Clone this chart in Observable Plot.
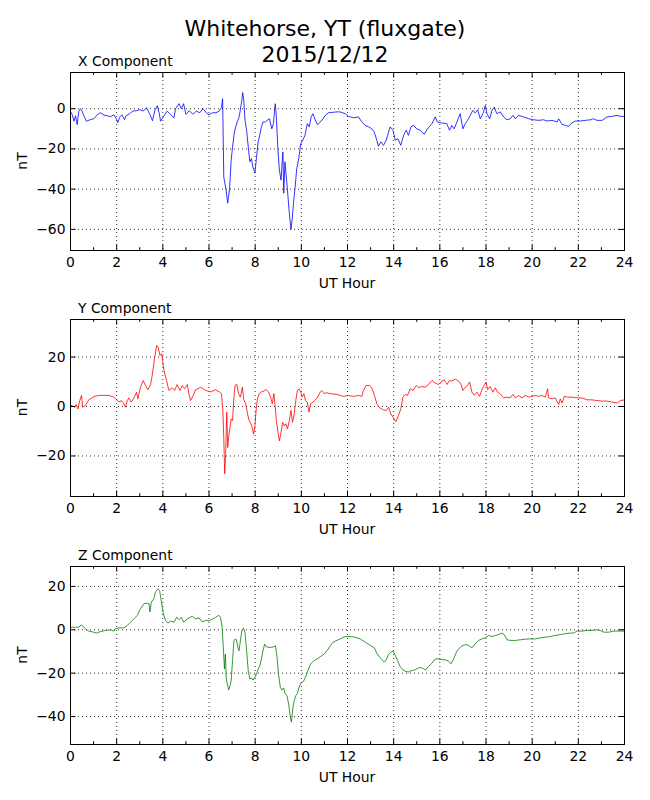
<!DOCTYPE html>
<html>
<head>
<meta charset="utf-8">
<script src="https://cdn.jsdelivr.net/npm/d3@7"></script>
<script src="https://cdn.jsdelivr.net/npm/@observablehq/plot@0.6"></script>
<style>
  body { margin: 0; background: #fff; }
  #fig { position: relative; width: 650px; height: 800px; font-family: "DejaVu Sans", sans-serif; }
  #fig svg.panel { position: absolute; left: 0; }
  #overlay { position: absolute; left: 0; top: 0; pointer-events: none; }
</style>
</head>
<body>
<div id="fig"></div>
<script>
// ---------- data ----------
const titleLines = ["Whitehorse, YT (fluxgate)", "2015/12/12"];
const componentNames = ["X Component", "Y Component", "Z Component"];
const xAxisLabel = "UT Hour";
const yAxisLabel = "nT";
const hourTicks = [0, 2, 4, 6, 8, 10, 12, 14, 16, 18, 20, 22, 24];
const hourMinorTicks = [1, 3, 5, 7, 9, 11, 13, 15, 17, 19, 21, 23];
const xValueTicks = [-60, -40, -20, 0];
const yValueTicks = [-20, 0, 20];
const zValueTicks = [-40, -20, 0, 20];

// [UT hour, nT]
const xSeries = [[0.0,-1.5],[0.07,-2.8],[0.15,-6.2],[0.22,-3.5],[0.29,-7.9],[0.36,-1.2],[0.43,0],[0.5,-1.2],[0.58,-3.5],[0.69,-6.2],[0.87,-5.4],[1.01,-5],[1.16,-3],[1.3,-2],[1.45,-3.2],[1.59,-3.5],[1.73,-4],[1.88,-3],[2.0,-5.4],[2.05,-7],[2.13,-4.2],[2.23,-3],[2.34,-5.4],[2.41,-3.5],[2.56,-2.5],[2.7,-1.2],[2.85,-1],[3.0,-0.5],[3.15,-1.2],[3.29,0.5],[3.44,-2.8],[3.55,-6],[3.65,-1],[3.76,1.5],[3.85,-2.5],[3.9,-6.2],[4.05,-3.5],[4.19,-1.2],[4.33,-2.8],[4.48,-4.6],[4.55,0],[4.7,2.5],[4.8,0],[4.9,2.5],[5.0,-2.8],[5.15,-1],[5.3,-2.8],[5.45,-1.2],[5.6,-2],[5.74,0],[5.88,-2],[6.0,-3],[6.15,-2],[6.3,-2],[6.44,-1.2],[6.54,0.5],[6.59,5],[6.64,-34],[6.74,-40.5],[6.81,-47],[6.89,-40],[6.96,-25.6],[7.02,-19],[7.1,-11.6],[7.16,-9],[7.22,-6.6],[7.28,-5],[7.33,-2.5],[7.42,4],[7.46,8],[7.5,5],[7.56,-5.8],[7.63,-10.7],[7.7,-19],[7.77,-26.4],[7.84,-24.8],[7.9,-29],[7.99,-32],[8.06,-24],[8.13,-16.5],[8.2,-13],[8.27,-9],[8.34,-6.6],[8.44,-6.6],[8.52,-5.8],[8.62,-5],[8.72,-10],[8.79,-7.4],[8.87,2.5],[8.91,-2.5],[8.98,-19],[9.05,-30.6],[9.12,-35.5],[9.2,-21.5],[9.24,-42],[9.29,-26.4],[9.35,-34],[9.4,-40.5],[9.48,-52],[9.55,-60],[9.6,-55.4],[9.66,-47],[9.73,-39],[9.8,-30],[9.9,-24],[9.97,-17.4],[10.06,-15.7],[10.16,-13.2],[10.26,-7.4],[10.34,-9],[10.43,-4],[10.5,-2.5],[10.6,-5.5],[10.7,-8],[10.82,-6.6],[10.94,-5],[11.04,-3.3],[11.18,-2],[11.36,-1.8],[11.55,-1.6],[11.68,-1.6],[11.9,-2.5],[12.04,-3.8],[12.26,-4.5],[12.48,-4.1],[12.62,-6.6],[12.77,-8.3],[12.91,-9],[13.05,-10],[13.16,-11.6],[13.27,-15.7],[13.34,-18.7],[13.45,-16.5],[13.56,-18.2],[13.68,-15.7],[13.78,-11.6],[13.85,-9],[13.97,-10.7],[14.07,-15.7],[14.18,-14.9],[14.31,-18.2],[14.43,-13.2],[14.54,-10.7],[14.64,-13.2],[14.75,-9],[14.86,-8.3],[15.0,-10],[15.15,-10.7],[15.32,-12.7],[15.47,-10],[15.66,-7.4],[15.8,-4.1],[15.9,-6.6],[16.09,-7.1],[16.3,-7.4],[16.42,-10.7],[16.52,-8.3],[16.62,-10],[16.74,-6.6],[16.88,-2.5],[17.0,-10],[17.1,-7.4],[17.2,-5.8],[17.32,-3.3],[17.43,-0.8],[17.53,-2.1],[17.64,-0.5],[17.75,-5],[17.87,-2.5],[17.97,1.6],[18.04,-2.5],[18.16,-5],[18.26,-0.8],[18.36,0.8],[18.47,-2.5],[18.62,-1.6],[18.76,-4.1],[18.91,-5.5],[19.05,-5],[19.17,-3.3],[19.27,-5],[19.41,-3.3],[19.63,-4.1],[19.85,-5],[20.06,-5.5],[20.28,-5.8],[20.5,-5.5],[20.64,-6.1],[20.86,-5.8],[21.08,-6.6],[21.15,-5],[21.29,-7.8],[21.44,-8.3],[21.58,-8.8],[21.68,-7.4],[21.87,-6.1],[22.09,-6.1],[22.3,-5.8],[22.52,-5.5],[22.66,-5],[22.81,-5.8],[23.03,-5.8],[23.24,-4.1],[23.46,-3.8],[23.68,-3.3],[23.82,-3.8],[24.0,-3.8]];

const ySeries = [[0.0,0.5],[0.07,0.4],[0.17,-0.3],[0.25,0.8],[0.32,-1],[0.4,2.4],[0.48,4.5],[0.53,-0.3],[0.65,0.4],[0.79,2.7],[1.01,4],[1.23,4.5],[1.45,4.5],[1.66,4.5],[1.88,3.8],[2.0,2.7],[2.1,1.8],[2.2,2.4],[2.31,1.1],[2.38,-0.3],[2.46,2.4],[2.53,3.5],[2.63,1.8],[2.75,3.5],[2.86,5.8],[2.92,3.1],[3.03,7.8],[3.15,10.5],[3.25,8.5],[3.35,6.8],[3.47,8.9],[3.54,12.6],[3.64,19.3],[3.73,24.7],[3.8,24],[3.87,20.7],[3.95,21.4],[4.05,14.6],[4.16,10.5],[4.26,6.5],[4.41,7.6],[4.51,6.5],[4.62,8.9],[4.74,6.5],[4.84,8.5],[4.94,7.2],[5.06,8.9],[5.13,5.1],[5.2,2.4],[5.32,4.5],[5.42,6.8],[5.64,7.8],[5.86,6.5],[6.07,5.9],[6.28,6.8],[6.45,5.9],[6.54,5.2],[6.6,-1.6],[6.64,-12.5],[6.68,-27.2],[6.72,-19.3],[6.77,-2.3],[6.81,-16.6],[6.85,-12.5],[6.91,-8.4],[6.96,-5],[7.02,-5.7],[7.08,3.8],[7.13,8.6],[7.2,9],[7.28,5.2],[7.36,3.8],[7.45,7.9],[7.5,3.1],[7.59,1.1],[7.67,-3],[7.74,-5.7],[7.82,-7.1],[7.87,-8.4],[7.93,-11.2],[7.99,-7.8],[8.04,-1.6],[8.1,3.1],[8.17,5.2],[8.27,5.9],[8.38,6.3],[8.48,6.8],[8.58,5.9],[8.67,3.8],[8.74,1.1],[8.81,5.2],[8.87,-0.3],[8.92,-5.7],[8.98,-9.8],[9.05,-13.9],[9.12,-10.5],[9.19,-6.4],[9.26,-7.8],[9.33,-7],[9.4,-9.1],[9.48,-5.7],[9.55,-1.6],[9.62,-6.4],[9.69,-3],[9.76,2.4],[9.83,6.5],[9.9,7.2],[9.97,5.9],[10.04,3.8],[10.11,5.2],[10.18,2.4],[10.26,1.8],[10.33,-2.3],[10.4,1.1],[10.51,1.8],[10.61,2.7],[10.71,3.8],[10.82,5.9],[10.89,6.5],[10.99,5.2],[11.1,5.6],[11.25,5.2],[11.54,4.9],[11.83,4.1],[12.04,4.5],[12.26,4.1],[12.48,4.5],[12.62,4.1],[12.69,6.5],[12.81,8.5],[12.95,8.5],[13.05,7.6],[13.17,4.5],[13.27,1.1],[13.39,-0.5],[13.56,-1.4],[13.68,-1.6],[13.78,-0.3],[13.88,-3],[13.99,-4.6],[14.1,-6.1],[14.21,-3.6],[14.31,-0.9],[14.4,3.8],[14.5,4.9],[14.6,4.5],[14.72,7.2],[14.83,6.5],[14.98,8.5],[15.08,7.6],[15.22,8.1],[15.37,7.8],[15.51,8.9],[15.66,10.5],[15.8,9.5],[15.95,8.9],[16.09,10.3],[16.19,10.8],[16.31,8.9],[16.42,10.5],[16.52,10.3],[16.67,11.1],[16.81,10.3],[16.91,9.2],[17.0,6.5],[17.1,7.8],[17.2,8.5],[17.29,9.9],[17.39,5.8],[17.49,4.5],[17.61,5.8],[17.72,4.1],[17.82,6.8],[17.92,8.5],[18.0,9.9],[18.07,6.8],[18.18,8.1],[18.3,5.8],[18.4,7.6],[18.5,5.8],[18.62,5.1],[18.76,3.5],[18.91,3.8],[19.05,3.5],[19.17,4.9],[19.27,3.5],[19.41,4.5],[19.56,3.5],[19.7,4.5],[19.85,3.8],[19.99,4.1],[20.14,4.5],[20.28,4.1],[20.42,4.5],[20.57,3.8],[20.67,7.2],[20.71,3.5],[20.86,3.1],[21.0,3.5],[21.15,0.8],[21.22,3.1],[21.29,1.4],[21.39,4.1],[21.54,3.8],[21.73,3.8],[21.94,3.5],[22.16,3.5],[22.38,2.7],[22.59,2.7],[22.81,2.4],[23.03,2.2],[23.24,2.2],[23.46,1.8],[23.68,1.4],[23.82,2.4],[24.0,2.7]];

const zSeries = [[0.0,1.0],[0.07,1.2],[0.22,1.2],[0.36,1.2],[0.46,2.3],[0.55,1.5],[0.65,0.5],[0.79,-0.6],[1.01,-1.1],[1.13,-1.5],[1.3,-0.8],[1.52,-0.3],[1.73,0],[1.88,-0.6],[1.95,0.5],[2.1,0.9],[2.31,0.9],[2.46,2],[2.6,3.5],[2.75,5.1],[2.89,6.6],[3.03,9.7],[3.18,12],[3.32,12.3],[3.4,12],[3.44,8.2],[3.5,12.8],[3.61,14.3],[3.68,17.4],[3.79,18.9],[3.86,18.2],[3.93,13.5],[4.02,7.4],[4.12,4.3],[4.22,3.1],[4.34,4],[4.48,3.5],[4.6,5.8],[4.7,4.6],[4.8,5.8],[4.91,3.5],[5.06,5.1],[5.27,6.2],[5.42,5.1],[5.56,5.5],[5.71,3.6],[5.86,4.4],[6.0,4.1],[6.14,4.9],[6.28,5.7],[6.43,6.7],[6.5,5.7],[6.57,1.1],[6.62,-8.1],[6.67,-18.1],[6.71,-11.2],[6.75,-22.7],[6.81,-25.8],[6.85,-27.8],[6.91,-25.8],[6.96,-23.5],[7.02,-14.3],[7.08,-5.1],[7.13,-4.3],[7.19,-4.6],[7.25,-8.1],[7.3,-9.7],[7.36,-5.1],[7.42,-0.5],[7.49,0.8],[7.56,-1.2],[7.63,-9.7],[7.7,-18.9],[7.77,-22.7],[7.84,-22.2],[7.91,-23.2],[7.99,-21.9],[8.06,-20.4],[8.13,-18.1],[8.2,-16.6],[8.27,-13.5],[8.34,-9.7],[8.41,-6.6],[8.48,-7.8],[8.58,-8.1],[8.7,-8.1],[8.81,-7.8],[8.88,-7.4],[8.95,-12.7],[9.01,-20.4],[9.09,-26.5],[9.16,-27.8],[9.23,-26.8],[9.3,-29.6],[9.38,-30.4],[9.45,-34.2],[9.52,-40],[9.57,-42.6],[9.63,-36.5],[9.69,-32.7],[9.76,-30.4],[9.83,-29.3],[9.9,-26.5],[9.97,-24.7],[10.09,-23.8],[10.18,-21.9],[10.28,-18.9],[10.4,-15.8],[10.54,-14.3],[10.68,-13.5],[10.82,-12.4],[10.99,-11.2],[11.11,-9.7],[11.25,-7.4],[11.36,-5.8],[11.47,-5.2],[11.68,-4.2],[11.9,-3.1],[12.12,-3.1],[12.33,-3.4],[12.55,-4.2],[12.77,-5.7],[12.98,-7.2],[13.16,-8.3],[13.27,-10.8],[13.39,-12.6],[13.49,-13.8],[13.59,-14.9],[13.68,-13.8],[13.78,-11.4],[13.88,-10.3],[13.97,-9.8],[14.07,-11.8],[14.17,-14.2],[14.28,-16.9],[14.4,-18.5],[14.5,-19.1],[14.64,-19.5],[14.79,-18.8],[14.93,-18.5],[15.08,-17.5],[15.22,-17.5],[15.37,-18.5],[15.51,-16.9],[15.66,-15.4],[15.8,-13.4],[15.95,-13.4],[16.09,-13.8],[16.23,-13.8],[16.38,-14.5],[16.48,-15.7],[16.6,-13.4],[16.74,-9.8],[16.91,-7.7],[17.1,-6.8],[17.25,-7.2],[17.39,-8.3],[17.53,-6.5],[17.68,-4.9],[17.82,-4.2],[17.97,-3.7],[18.11,-2.6],[18.26,-3.1],[18.4,-2.6],[18.55,-2.2],[18.69,-1.5],[18.79,-2.2],[18.91,-4.6],[19.05,-4.9],[19.27,-4.9],[19.49,-4.6],[19.7,-4.3],[19.92,-4.2],[20.14,-4.2],[20.35,-3.7],[20.57,-3.4],[20.79,-3.1],[21.0,-2.6],[21.22,-2.2],[21.44,-1.8],[21.65,-1.5],[21.8,-1.5],[21.94,-0.6],[22.16,-0.6],[22.38,-0.3],[22.59,-0.3],[22.81,0],[22.95,-0.3],[23.1,-1.1],[23.32,-1.1],[23.53,-0.6],[23.75,-0.6],[24.0,-0.6]];

// ---------- layout / style ----------
const W = 650, ML = 70, MR = 26, MT = 10, MB = 30;
const FW = W - ML - MR;
const FONT = "DejaVu Sans";
const panels = [
  {name: componentNames[0], series: xSeries, ticks: xValueTicks, domain: [-70.5, 18],   color: "#0000ff", top: 72,  h: 178},
  {name: componentNames[1], series: ySeries, ticks: yValueTicks, domain: [-36.4, 35.2], color: "#ff0000", top: 319, h: 177},
  {name: componentNames[2], series: zSeries, ticks: zValueTicks, domain: [-52.9, 29.2], color: "#008000", top: 566, h: 178}
];
const fmt = d => d < 0 ? "\u2212" + Math.abs(d) : String(d);
const fig = document.getElementById("fig");

for (const p of panels) {
  const fh = p.h;
  const grid = {stroke: "black", strokeOpacity: 1, strokeWidth: 0.8, strokeDasharray: "1,3"};
  const tk = {stroke: "black", strokeWidth: 1};
  const chart = Plot.plot({
    width: W, height: MT + fh + MB,
    marginLeft: ML, marginRight: MR, marginTop: MT, marginBottom: MB,
    style: {fontFamily: FONT, fontSize: "13.9px", background: "transparent", overflow: "visible", color: "black"},
    x: {domain: [0, 24]},
    y: {domain: p.domain},
    marks: [
      Plot.gridX(hourTicks, grid),
      Plot.gridY(p.ticks, grid),
      Plot.line(p.series, {x: d => d[0], y: d => d[1], stroke: p.color, strokeWidth: 0.8}),
      Plot.ruleX(hourTicks, {...tk, insetTop: fh - 5.5}),
      Plot.ruleX(hourTicks, {...tk, insetBottom: fh - 5.5}),
      Plot.ruleX(hourMinorTicks, {...tk, insetTop: fh - 2.8}),
      Plot.ruleX(hourMinorTicks, {...tk, insetBottom: fh - 2.8}),
      Plot.ruleY(p.ticks, {...tk, insetRight: FW - 5.5}),
      Plot.ruleY(p.ticks, {...tk, insetLeft: FW - 5.5}),
      Plot.frame({stroke: "black", strokeWidth: 1}),
      Plot.axisX(hourTicks, {tickSize: 0, tickPadding: 7, label: null, tickFormat: d => String(d)}),
      Plot.axisY(p.ticks, {tickSize: 0, tickPadding: 5, label: null, tickFormat: fmt})
    ]
  });
  chart.classList.add("panel");
  chart.style.top = (p.top - MT) + "px";
  fig.appendChild(chart);
}

// ---------- texts ----------
const ov = d3.create("svg").attr("id", "overlay").attr("width", W).attr("height", 800)
  .style("font-family", FONT);
ov.append("text").attr("x", 325).attr("y", 35.5).attr("text-anchor", "middle")
  .style("font-size", "22px").text(titleLines[0]);
ov.append("text").attr("x", 325).attr("y", 62).attr("text-anchor", "middle")
  .style("font-size", "22px").text(titleLines[1]);
for (const p of panels) {
  ov.append("text").attr("x", 78).attr("y", p.top - 6.5).style("font-size", "13.9px").text(p.name);
  ov.append("text").attr("x", ML + FW / 2).attr("y", p.top + p.h + 38).attr("text-anchor", "middle")
    .style("font-size", "13.9px").text(xAxisLabel);
  ov.append("text").attr("transform", `translate(26.5,${p.top + p.h / 2}) rotate(-90)`)
    .attr("text-anchor", "middle").style("font-size", "13.9px").text(yAxisLabel);
}
fig.appendChild(ov.node());
</script>
</body>
</html>
